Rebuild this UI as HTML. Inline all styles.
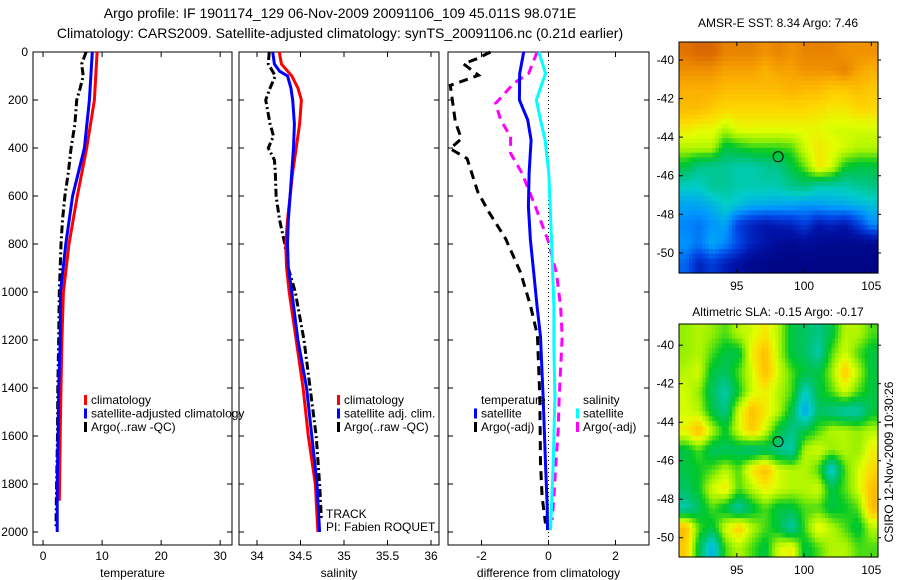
<!DOCTYPE html>
<html><head><meta charset="utf-8"><style>
body{margin:0;background:#fff;}
svg{display:block;font-family:"Liberation Sans",sans-serif;}
text{fill:#000;}
</style></head><body>
<svg id="c" width="900" height="580" viewBox="0 0 900 580">
<text x="340" y="18" font-size="14" text-anchor="middle">Argo profile: IF 1901174_129 06-Nov-2009 20091106_109 45.011S 98.071E</text>
<text x="340" y="38" font-size="14" text-anchor="middle">Climatology: CARS2009. Satellite-adjusted climatology: synTS_20091106.nc (0.21d earlier)</text>
<text x="778" y="27" font-size="12" text-anchor="middle">AMSR-E SST: 8.34 Argo: 7.46</text>
<text x="778" y="316" font-size="12" text-anchor="middle">Altimetric SLA: -0.15 Argo: -0.17</text>
<text transform="translate(893,462) rotate(-90)" font-size="12" text-anchor="middle">CSIRO 12-Nov-2009 10:30:26</text>
</svg>
<script>
// ---- data ----
const tDep = [0,200,400,600,800,1000,1200,1400,1600,1800,1870];
const tClim = [9.15,8.7,7.4,5.8,4.4,3.45,3.2,3.05,2.9,2.8,2.75];
const tSatDep = [0,200,400,600,800,1000,1200,1400,1600,1800,2000];
const tSat = [8.35,7.85,7.0,5.0,3.85,2.95,2.9,2.65,2.55,2.4,2.4];
const tArgoDep = [0,50,100,150,200,300,400,500,600,700,800,900,1000,1200,1400,1600,1800,1980];
const tArgo = [7.3,6.55,6.8,6.3,5.7,5.4,4.75,4.3,3.7,3.3,3.05,2.9,2.75,2.65,2.5,2.45,2.3,2.2];

const sClimDep = [0,50,100,150,200,300,400,500,600,700,800,900,1000,1200,1400,1600,1800,2000];
const sClim = [34.256,34.28,34.40,34.47,34.51,34.49,34.45,34.41,34.38,34.35,34.33,34.34,34.37,34.45,34.53,34.59,34.67,34.70];
const sSatDep = [0,50,80,100,150,200,300,400,500,600,700,800,900,1000,1200,1400,1600,1800,2000];
const sSat = [34.18,34.2,34.26,34.35,34.39,34.41,34.43,34.42,34.40,34.38,34.36,34.35,34.36,34.40,34.47,34.57,34.63,34.69,34.72];
const sArgoDep = [0,50,100,150,200,300,350,400,450,500,600,700,800,900,1000,1100,1200,1400,1600,1800,1950];
const sArgo = [34.14,34.13,34.21,34.15,34.10,34.15,34.19,34.13,34.20,34.21,34.22,34.26,34.32,34.36,34.44,34.49,34.54,34.61,34.68,34.72,34.74];

const dTSatDep = [0,89,200,283,367,505,644,783,922,1061,1186,1436,1714,1894,1992];
const dTSat = [-0.74,-0.86,-0.87,-0.62,-0.52,-0.58,-0.6,-0.54,-0.44,-0.34,-0.24,-0.16,-0.09,-0.04,-0.03];
const dSSatDep = [0,89,200,283,367,505,644,783,1061,1228,1436,1714,1894,1992];
const dSSat = [-0.29,-0.09,-0.36,-0.24,-0.1,0.01,0.05,0.09,0.16,0.16,0.19,0.14,0.09,0.06];
const dSArgoDep = [0,89,130,214,283,353,422,505,644,783,922,1061,1186,1436,1575,1714,1853,1950];
const dSArgo = [-0.34,-0.59,-1.03,-1.58,-1.43,-1.13,-1.13,-0.79,-0.39,-0.02,0.24,0.36,0.41,0.32,0.29,0.22,0.16,0.11];
const dTArgoDep = [0,28,49,97,139,292,361,403,444,583,667,778,917,1056,1180,1436,1714,1853,1964];
const dTArgo = [-1.73,-2.13,-2.54,-2.09,-2.93,-2.78,-2.6,-2.93,-2.43,-2.11,-1.78,-1.28,-0.84,-0.54,-0.33,-0.26,-0.24,-0.19,-0.09];

const depthTicks = [0,200,400,600,800,1000,1200,1400,1600,1800,2000];
const tTicks = [0,10,20,30];
const sTicks = [34,34.5,35,35.5,36];
const dTicks = [-2,0,2];

const sstGrid = [
[0.82,0.84,0.84,0.8,0.8,0.8,0.78,0.8,0.78,0.8,0.8,0.8,0.78,0.78,0.78],
[0.78,0.78,0.78,0.76,0.76,0.76,0.74,0.76,0.76,0.78,0.78,0.78,0.8,0.76,0.74],
[0.74,0.74,0.74,0.72,0.72,0.72,0.72,0.72,0.74,0.72,0.72,0.7,0.7,0.72,0.7],
[0.72,0.72,0.7,0.68,0.68,0.68,0.68,0.68,0.68,0.68,0.67,0.66,0.66,0.68,0.68],
[0.66,0.64,0.64,0.6,0.64,0.64,0.64,0.64,0.64,0.64,0.64,0.62,0.62,0.62,0.62],
[0.6,0.6,0.6,0.5,0.52,0.54,0.54,0.54,0.55,0.62,0.66,0.64,0.62,0.6,0.6],
[0.5,0.45,0.44,0.44,0.42,0.42,0.44,0.45,0.5,0.56,0.66,0.62,0.52,0.5,0.5],
[0.4,0.4,0.44,0.44,0.42,0.42,0.42,0.42,0.45,0.46,0.42,0.42,0.42,0.44,0.45],
[0.34,0.34,0.36,0.4,0.38,0.35,0.35,0.34,0.34,0.32,0.33,0.34,0.35,0.36,0.38],
[0.3,0.28,0.32,0.34,0.2,0.15,0.12,0.14,0.15,0.2,0.12,0.15,0.12,0.2,0.3],
[0.32,0.28,0.35,0.3,0.22,0.15,0.12,0.07,0.06,0.08,0.06,0.05,0.05,0.05,0.05],
[0.26,0.15,0.2,0.14,0.1,0.05,0.04,0.03,0.03,0.03,0.03,0.03,0.03,0.03,0.03]];
const slaGrid = [
[0.58,0.6,0.58,0.55,0.6,0.62,0.66,0.6,0.5,0.48,0.45,0.5,0.6,0.6,0.55],
[0.58,0.6,0.55,0.5,0.5,0.65,0.72,0.6,0.5,0.48,0.42,0.55,0.62,0.55,0.5],
[0.6,0.62,0.5,0.48,0.55,0.62,0.72,0.62,0.55,0.5,0.5,0.58,0.7,0.6,0.5],
[0.62,0.58,0.48,0.42,0.52,0.62,0.65,0.6,0.55,0.4,0.5,0.55,0.62,0.55,0.5],
[0.62,0.6,0.5,0.45,0.62,0.72,0.66,0.6,0.5,0.33,0.48,0.45,0.42,0.42,0.5],
[0.65,0.72,0.6,0.52,0.62,0.7,0.62,0.5,0.45,0.5,0.55,0.6,0.6,0.58,0.6],
[0.5,0.55,0.48,0.48,0.48,0.45,0.48,0.45,0.42,0.6,0.62,0.58,0.6,0.58,0.65],
[0.5,0.52,0.55,0.6,0.55,0.66,0.72,0.62,0.6,0.6,0.55,0.38,0.55,0.62,0.68],
[0.48,0.52,0.62,0.66,0.55,0.6,0.65,0.62,0.6,0.6,0.62,0.5,0.55,0.62,0.72],
[0.42,0.48,0.55,0.5,0.42,0.5,0.55,0.5,0.5,0.55,0.55,0.5,0.52,0.55,0.72],
[0.72,0.55,0.5,0.62,0.7,0.6,0.55,0.5,0.42,0.55,0.65,0.6,0.55,0.5,0.6],
[0.7,0.5,0.35,0.55,0.6,0.55,0.5,0.62,0.65,0.5,0.55,0.6,0.6,0.55,0.55]];
const lonTicks = [95,100,105];
const latTicks = [-40,-42,-44,-46,-48,-50];
const floatLon = 98.07, floatLat = -45.01;

// ---- drawing ----
const svg = document.getElementById('c');
const NS = 'http://www.w3.org/2000/svg';
function mk(tag, attrs, parent){const e=document.createElementNS(NS,tag);for(const k in attrs)e.setAttribute(k,attrs[k]);(parent||svg).appendChild(e);return e;}
const TOP=52, BOT=545, DMAX=(BOT-TOP)/0.24;
const yD = d => TOP + d*(BOT-TOP)/DMAX;

const panels = [
 {name:'temperature', x0:33, x1:232, v0:-1.7, v1:32.0, ticks:tTicks, label:'temperature'},
 {name:'salinity', x0:239, x1:439, v0:33.793, v1:36.092, ticks:sTicks, label:'salinity'},
 {name:'difference', x0:448, x1:649, v0:-3.0, v1:3.0, ticks:dTicks, label:'difference from climatology'}];
panels.forEach(p=>{p.x = v => p.x0 + (v-p.v0)*(p.x1-p.x0)/(p.v1-p.v0);});

function drawLine(p, deps, vals, color, dash, name){
  const pts = deps.map((d,i)=>p.x(vals[i]).toFixed(1)+','+yD(d).toFixed(1)).join(' ');
  const l = mk('polyline',{points:pts,fill:'none',stroke:color,'stroke-width':3});
  if(dash) l.setAttribute('stroke-dasharray',dash);
  
  
}

panels.forEach((p,pi)=>{
  const g = mk('g',{});
  
  
  mk('rect',{x:p.x0,y:TOP,width:p.x1-p.x0,height:BOT-TOP,fill:'none',stroke:'#000','stroke-width':1},g);
  p.ticks.forEach(t=>{
    const x=p.x(t);
    mk('line',{x1:x,y1:BOT,x2:x,y2:BOT-5,stroke:'#000'},g);
    mk('line',{x1:x,y1:TOP,x2:x,y2:TOP+5,stroke:'#000'},g);
    const tx = mk('text',{x:x,y:BOT+15,'font-size':12,'text-anchor':'middle'},g);
    tx.textContent = t;
    
    
  });
  depthTicks.forEach(d=>{
    const y=yD(d);
    mk('line',{x1:p.x0,y1:y,x2:p.x0+5,y2:y,stroke:'#000'},g);
    mk('line',{x1:p.x1,y1:y,x2:p.x1-5,y2:y,stroke:'#000'},g);
    if(pi===0){
      const tx = mk('text',{x:28,y:y+4,'font-size':12,'text-anchor':'end'},g);
      tx.textContent = d;
      
      
    }
  });
  const xl = mk('text',{x:(p.x0+p.x1)/2,y:BOT+32,'font-size':12,'text-anchor':'middle'},g);
  xl.textContent = p.label;
  
  
});

const P1=panels[0],P2=panels[1],P3=panels[2];
drawLine(P1,tArgoDep,tArgo,'#000','8,3,2,3','temp-argo-line');
drawLine(P1,tDep,tClim,'#f00',null,'temp-climatology-line');
drawLine(P1,tSatDep,tSat,'#00f',null,'temp-satellite-line');
drawLine(P2,sArgoDep,sArgo,'#000','8,3,2,3','sal-argo-line');
drawLine(P2,sClimDep,sClim,'#f00',null,'sal-climatology-line');
drawLine(P2,sSatDep,sSat,'#00f',null,'sal-satellite-line');
const zl = mk('line',{x1:P3.x(0),y1:TOP,x2:P3.x(0),y2:BOT,stroke:'#000','stroke-width':1,'stroke-dasharray':'1,3'});


drawLine(P3,dTArgoDep,dTArgo,'#000','9,6','diff-temp-argo-line');
drawLine(P3,dSArgoDep,dSArgo,'#f0f','9,6','diff-sal-argo-line');
drawLine(P3,dTSatDep,dTSat,'#00f',null,'diff-temp-satellite-line');
drawLine(P3,dSSatDep,dSSat,'#0ff',null,'diff-sal-satellite-line');

function legend(x,y,items,name){
  const g=mk('g',{});
  
  
  items.forEach((it,i)=>{
    const yy=y+i*13.5;
    if(it[1]) mk('rect',{x:x,y:yy-9,width:3,height:10,fill:it[1]},g);
    const t=mk('text',{x:x+7,y:yy,'font-size':12},g);
    t.textContent=it[0];
  });
}
legend(84,404,[['climatology','#f00'],['satellite-adjusted climatology','#00f'],['Argo(..raw -QC)','#000']],'temperature-legend');
legend(337,404,[['climatology','#f00'],['satellite adj. clim.','#00f'],['Argo(..raw -QC)','#000']],'salinity-legend');
legend(474,404,[['temperature',null],['satellite','#00f'],['Argo(-adj)','#000']],'diff-temperature-legend');
legend(576,404,[['salinity',null],['satellite','#0ff'],['Argo(-adj)','#f0f']],'diff-salinity-legend');
const tr=mk('text',{x:326,y:518,'font-size':12});tr.textContent='TRACK';

const pi=mk('text',{x:326,y:531,'font-size':12});pi.textContent='PI: Fabien ROQUET';


// maps: colormap stops matched to reference appearance
const cmStops=[[0,0,0,120],[0.12,0,20,170],[0.22,0,70,230],[0.32,0,150,255],[0.4,0,205,200],[0.47,0,195,110],[0.52,0,200,40],[0.58,150,240,0],[0.63,225,255,0],[0.68,255,215,0],[0.75,250,170,0],[0.82,225,115,0],[0.9,190,70,0]];
function cmap(v){
  if(v<=cmStops[0][0])return 'rgb(0,0,120)';
  for(let k=1;k<cmStops.length;k++){const a=cmStops[k-1],b=cmStops[k];
    if(v<=b[0]){const t=(v-a[0])/(b[0]-a[0]);
      return 'rgb('+[1,2,3].map(q=>Math.round(a[q]+t*(b[q]-a[q]))).join(',')+')';}}
  return 'rgb(190,70,0)';
}
function drawMap(grid, box, name){
  const g=mk('g',{});
  
  
  const lonX = lo => box.x0 + (lo-box.lon0)*(box.x1-box.x0)/(box.lon1-box.lon0);
  const latY = la => box.y0 + (box.lat0-la)*(box.y1-box.y0)/(box.lat0-box.lat1);
  const R=grid.length, C=grid[0].length, S=4;
  const cw=(box.x1-box.x0)/(C*S), ch=(box.y1-box.y0)/(R*S);
  for(let i=0;i<R*S;i++)for(let j=0;j<C*S;j++){
    const fy=Math.min(R-1,Math.max(0,(i+0.5)/S-0.5)), fx=Math.min(C-1,Math.max(0,(j+0.5)/S-0.5));
    const i0=Math.floor(fy),j0=Math.floor(fx),i1=Math.min(R-1,i0+1),j1=Math.min(C-1,j0+1),a=fy-i0,b=fx-j0;
    const v=(1-a)*((1-b)*grid[i0][j0]+b*grid[i0][j1])+a*((1-b)*grid[i1][j0]+b*grid[i1][j1]);
    mk('rect',{x:(box.x0+j*cw).toFixed(2),y:(box.y0+i*ch).toFixed(2),width:(cw+0.6).toFixed(2),height:(ch+0.6).toFixed(2),fill:cmap(v)},g);
  }
  mk('rect',{x:box.x0,y:box.y0,width:box.x1-box.x0,height:box.y1-box.y0,fill:'none',stroke:'#000'},g);
  lonTicks.forEach(lo=>{const x=lonX(lo);
    mk('line',{x1:x,y1:box.y1,x2:x,y2:box.y1-4,stroke:'#000'},g);
    mk('line',{x1:x,y1:box.y0,x2:x,y2:box.y0+4,stroke:'#000'},g);
    const t=mk('text',{x:x,y:box.y1+17,'font-size':12,'text-anchor':'middle'},g);t.textContent=lo;});
  latTicks.forEach(la=>{const y=latY(la);
    mk('line',{x1:box.x0,y1:y,x2:box.x0+4,y2:y,stroke:'#000'},g);
    mk('line',{x1:box.x1,y1:y,x2:box.x1+3,y2:y,stroke:'#000'},g);
    const t=mk('text',{x:box.x0-5,y:y+4,'font-size':12,'text-anchor':'end'},g);t.textContent=la;});
  const m=mk('circle',{cx:lonX(floatLon),cy:latY(floatLat),r:5,fill:'none',stroke:'#000','stroke-width':1});
  
  
}
drawMap(sstGrid,{x0:679,x1:878,y0:42,y1:273,lon0:90.7,lon1:105.5,lat0:-39.07,lat1:-51.04},'sst-map');
drawMap(slaGrid,{x0:679,x1:878,y0:324,y1:557,lon0:90.7,lon1:105.5,lat0:-38.9,lat1:-51.0},'sla-map');
</script>
</body></html>
